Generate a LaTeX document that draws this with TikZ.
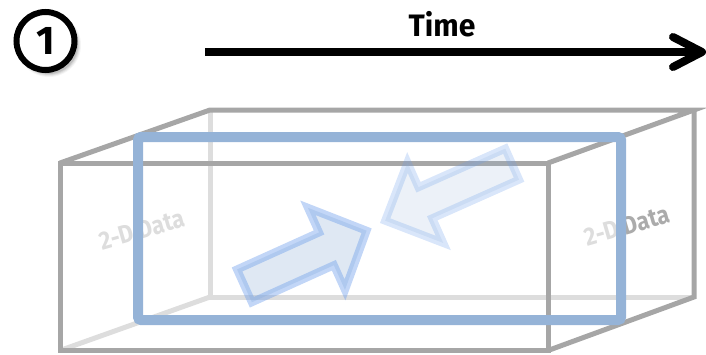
\documentclass[tikz,border=0pt]{standalone}
\usepackage{fontspec}
\setmainfont{Fira Sans}
\newfontfamily\condfont[FakeStretch=0.97]{Fira Sans}
\newfontfamily\narrowfont[FakeStretch=0.88]{Fira Sans}
\usetikzlibrary{calc}
\definecolor{boxdark}{HTML}{A6A6A6}
\definecolor{boxlight}{HTML}{DDDDDD}
\definecolor{selblue}{HTML}{95B3D7}
\definecolor{arrline}{HTML}{6D9EEB}
\definecolor{arrfill}{HTML}{95B3D7}
\definecolor{txtlight}{HTML}{DDDDDD}
\definecolor{txtdark}{HTML}{ABABAB}
\begin{document}
\begin{tikzpicture}[x=1pt,y=-1pt,
  darkedge/.style={draw=boxdark,line width=5pt,line join=miter},
  lightedge/.style={draw=boxlight,line width=5pt,line join=miter},
  datalabel/.style={font=\narrowfont\bfseries\fontsize{25.5}{25.5}\selectfont,rotate=16,inner sep=0pt},
  blockarrow/.style={draw=arrline,fill=arrfill,line width=8pt,line join=miter},
  selbox/.style={draw=selblue,line width=10pt,rounded corners=3pt},
  timeline/.style={draw=black,line width=8pt},
]
\useasboundingbox (0,0) rectangle (706,354);
% box corners
\coordinate (F1) at (60,163);
\coordinate (F2) at (548,163);
\coordinate (F3) at (548,350.5);
\coordinate (F4) at (60,350.5);
\coordinate (B1) at (210,110);
\coordinate (B2) at (694,110);
\coordinate (B3) at (694,297);
\coordinate (B4) at (210,297);
% hidden edges
\draw[lightedge] (B1) -- (B4) -- (B3);
\draw[lightedge] (F4) -- (B4);
% visible edges
\draw[darkedge] (F1) -- (B1) -- (B2) -- (F2);
\draw[darkedge] (B2) -- (B3) -- (F3);
\draw[darkedge] (F1) -- (F2) -- (F3) -- (F4) -- cycle;
% labels
\node[datalabel,text=txtlight] (dl) at (142,230) {2-D Data};
\node[datalabel] (dr) at (627,226) {\textcolor{txtlight}{2-D} \textcolor{txtdark}{Data}};
% block arrows
\begin{scope}[shift={(240.8,287.5)},rotate=24.3]
  \path[blockarrow,draw opacity=0.42,fill opacity=0.3]
    (4,-18) -- (94,-18) -- (94,-45) -- (138,0) -- (94,45) -- (94,18) -- (4,18) -- cycle;
\end{scope}
\begin{scope}[shift={(515.8,162.5)},rotate=204]
  \path[blockarrow,draw opacity=0.26,fill opacity=0.18]
    (4,-17) -- (99,-17) -- (99,-44) -- (143,0) -- (99,44) -- (99,17) -- (4,17) -- cycle;
\end{scope}
% selection rectangle
\coordinate (S1) at (138,137);
\coordinate (S2) at (621,320);
\draw[selbox] (S1) rectangle (S2);
% time axis
\coordinate (ts) at (205,52);
\coordinate (te) at (702,52);
\draw[timeline] (ts) -- ($(te)+(-5,0)$);
\draw[timeline,line cap=round,line join=round] ($(te)+(-29,-15)$) -- (te) -- ($(te)+(-29,15)$);
\node[font=\condfont\bfseries\fontsize{31}{31}\selectfont,inner sep=0pt] (time) at (442,24) {Time};
% step badge
\foreach \r/\o in {32/0.04,31/0.06,30/0.08,29/0.1}{
  \fill[black,opacity=\o] (49,45) circle[radius=\r];
}
\node[circle,draw=black,fill=white,line width=6pt,minimum size=58pt,inner sep=0pt,
      font=\bfseries\fontsize{40}{40}\selectfont] (badge) at (45.5,41) {1};
\end{tikzpicture}
\end{document}
